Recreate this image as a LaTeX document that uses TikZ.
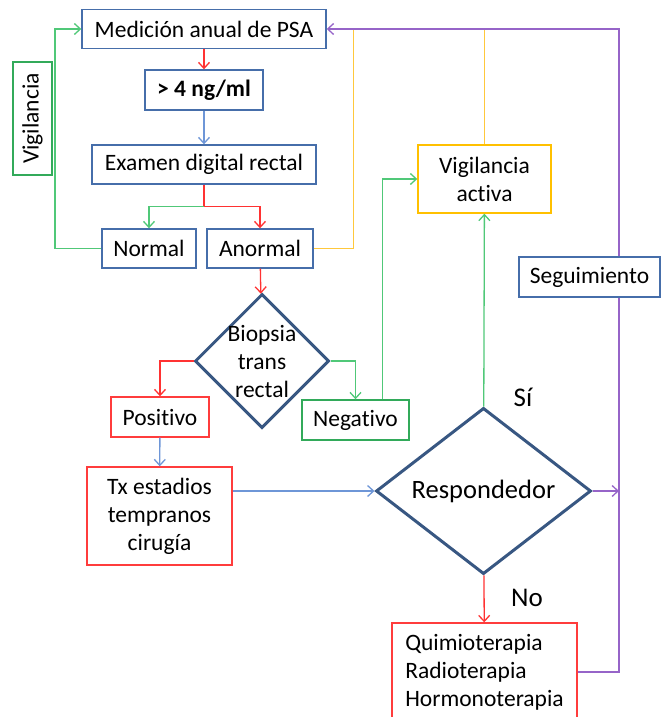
\documentclass[tikz,border=0pt]{standalone}
\usepackage{fontspec}
\setmainfont{Carlito}[Ligatures=NoCommon]
\usetikzlibrary{arrows.meta,shapes.geometric}
\definecolor{boxblue}{RGB}{70,110,170}
\definecolor{decblue}{RGB}{56,87,130}
\definecolor{lnred}{RGB}{255,50,50}
\definecolor{bxred}{RGB}{255,60,60}
\definecolor{lngreen}{RGB}{80,200,120}
\definecolor{bxgreen}{RGB}{50,170,90}
\definecolor{lnyellow}{RGB}{255,200,60}
\definecolor{bxyellow}{RGB}{255,192,0}
\definecolor{lnpurple}{RGB}{150,100,200}
\definecolor{lnblue}{RGB}{110,150,215}
\tikzset{>={Straight Barb[length=6pt,width=11pt]}}
\tikzset{
  box/.style = {draw=boxblue, line width=1.4pt, inner sep=0pt, align=center},
  dec/.style = {diamond, draw=decblue, line width=3pt, inner sep=0pt},
  link/.style = {line width=1.3pt}
}

\begin{document}
\begin{tikzpicture}[x=1pt,y=-1pt,font=\fontsize{23.5}{28}\selectfont]
  \useasboundingbox (0,0) rectangle (661,717);
  % screening
  \node[box, minimum width=244pt, minimum height=39pt] (med) at (204,29) {Medición anual de PSA};
  \node[box, minimum width=118pt, minimum height=40pt] (ng) at (204,90) {\bfseries > 4 ng/ml};
  \node[box, minimum width=224pt, minimum height=39pt] (edr) at (204,164.5) {Examen digital rectal};
  \node[box, minimum width=94pt, minimum height=39pt] (normal) at (149,248.5) {Normal};
  \node[box, minimum width=106pt, minimum height=39pt] (anormal) at (260,248.5) {Anormal};
  \node[box, draw=bxgreen, rotate=90, minimum width=113pt, minimum height=39pt] (vig) at (32.5,118.5) {Vigilancia};
  % biopsy
  \node[dec, minimum width=134pt, minimum height=134pt,
        label={[align=center]center:Biopsia\\trans\\rectal}] (bio) at (262,361) {};
  \node[box, draw=bxred, minimum width=98pt, minimum height=40pt] (pos) at (160,417) {Positivo};
  \node[box, draw=bxgreen, minimum width=107pt, minimum height=40pt] (neg) at (355.5,420) {Negativo};
  \node[box, draw=bxred, minimum width=145pt, minimum height=98pt] (tx) at (159.5,516) {Tx estadios\\tempranos\\cirugía};
  % treatment
  \node[box, draw=bxyellow, minimum width=133pt, minimum height=68pt] (vigact) at (484.5,179) {Vigilancia\\activa};
  \node[box, minimum width=141pt, minimum height=40pt] (seg) at (589.5,277) {Seguimiento};
  \node[dec, minimum width=215pt, minimum height=148pt, font=\fontsize{26.5}{32}\selectfont] (resp) at (483.5,491) {Respondedor};
  \node[font=\fontsize{27}{32}\selectfont] (si) at (523,397) {Sí};
  \node[font=\fontsize{27}{32}\selectfont] (no) at (527,598) {No};
  \node[box, draw=bxred, minimum width=185pt, minimum height=98pt, align=left] (quimio) at (484.5,672) {Quimioterapia\\Radioterapia\\Hormonoterapia};
  \coordinate (rail) at (619,29);
  % links
  \draw[link, lnred, ->] (med) -- (ng);
  \draw[link, lnblue, ->] (ng) -- (edr);
  \draw[link, lnred] (edr.south) -- ++(0,22) coordinate (split);
  \draw[link, lngreen, ->] (split) -| (normal);
  \draw[link, lnred, ->] (split) -| (anormal);
  \draw[link, lngreen, ->] (normal) -- ++(-94,0) |- (med);
  \draw[link, lnyellow] (anormal) -| ([xshift=27pt]med.east);
  \draw[link, lnyellow] (vigact) -- (vigact |- med);
  \draw[link, lnpurple, ->] (rail |- seg.north) -- (rail) -- (med);
  \draw[link, lnpurple] (quimio) -| (rail |- seg.south);
  \draw[link, lnpurple, ->] (resp) -- (rail |- resp);
  \draw[link, lnred, ->] (anormal) -- (bio);
  \draw[link, lnred, ->] (bio.west) -| (pos);
  \draw[link, lngreen, ->] (bio.east) -| (neg);
  \draw[link, lngreen, ->] ([xshift=27pt]neg.north) |- (vigact);
  \draw[link, lnblue, ->] (pos) -- (tx);
  \draw[link, lnblue, ->] (tx.east |- resp) -- (resp);
  \draw[link, lngreen, ->] (resp) -- (vigact);
  \draw[link, lnred, ->] (resp) -- (quimio);
\end{tikzpicture}
\end{document}
